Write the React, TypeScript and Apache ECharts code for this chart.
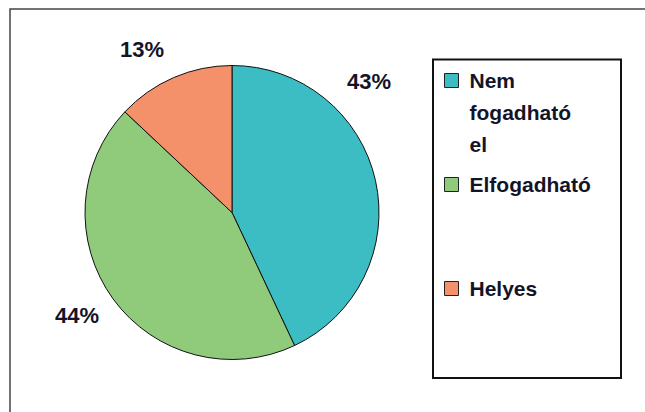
import React, { useEffect, useRef } from "react";
import * as echarts from "echarts";

const categories = ["Nem fogadható el", "Elfogadható", "Helyes"];
const values = [43, 44, 13];
const colors = ["#3bbdc3", "#8fcb7a", "#f5916a"];
// label anchor positions (pixels) for the percentage labels
const labelPositions = [
  [369, 81],
  [77, 315],
  [142, 49],
];

export default function App() {
  const ref = useRef<HTMLDivElement>(null);
  useEffect(() => {
    if (!ref.current) return;
    const chart = echarts.init(ref.current, undefined, { renderer: "svg" });
    const font = "'Liberation Sans', Arial, sans-serif";
    const legendPads = [
      [0, 0, 0, 6],
      [8, 0, 8, 6],
      [64, 0, 64, 6],
    ];
    chart.setOption({
      animation: false,
      backgroundColor: "#ffffff",
      color: colors,
      graphic: [
        {
          type: "rect",
          shape: { x: 10, y: 9, width: 660, height: 420 },
          style: { fill: "none", stroke: "#444", lineWidth: 1.5 },
          silent: true,
        },
        {
          type: "rect",
          shape: { x: 433, y: 59.5, width: 188, height: 318.5 },
          style: { fill: "none", stroke: "#111", lineWidth: 2 },
          silent: true,
        },
      ],
      legend: {
        orient: "vertical",
        left: 444,
        top: 0.5,
        padding: 0,
        itemGap: 0,
        itemWidth: 14,
        itemHeight: 14,
        icon: "rect",
        itemStyle: { borderColor: "#222", borderWidth: 1 },
        // multi-word names wrap one word per line, with the first line beside the marker
        formatter: (name: string) =>
          name.includes(" ") ? "\n\n" + name.split(" ").join("\n") : name,
        textStyle: {
          fontFamily: font,
          fontWeight: "bold",
          fontSize: 21,
          color: "#141428",
          lineHeight: 32,
        },
        data: categories.map((c, i) => ({
          name: c,
          textStyle: {
            padding: legendPads[i],
            backgroundColor: "rgba(0,0,0,0)",
          },
        })),
      },
      series: [
        {
          type: "pie",
          center: [232, 212.5],
          radius: 147,
          startAngle: 90,
          clockwise: true,
          avoidLabelOverlap: false,
          itemStyle: { borderColor: "#111", borderWidth: 1 },
          label: {
            show: true,
            position: "outside",
            formatter: "{d}%",
            fontFamily: font,
            fontWeight: "bold",
            fontSize: 22,
            color: "#141428",
          },
          labelLine: { show: false },
          labelLayout: (params: any) => {
            const p = labelPositions[params.dataIndex];
            return { x: p[0], y: p[1], align: "center", verticalAlign: "middle" };
          },
          emphasis: { disabled: true },
          data: categories.map((c, i) => ({ name: c, value: values[i] })),
        },
      ],
    });
    return () => chart.dispose();
  }, []);
  return (
    <div
      ref={ref}
      style={{ position: "fixed", left: 0, top: 0, width: 645, height: 412 }}
    />
  );
}
